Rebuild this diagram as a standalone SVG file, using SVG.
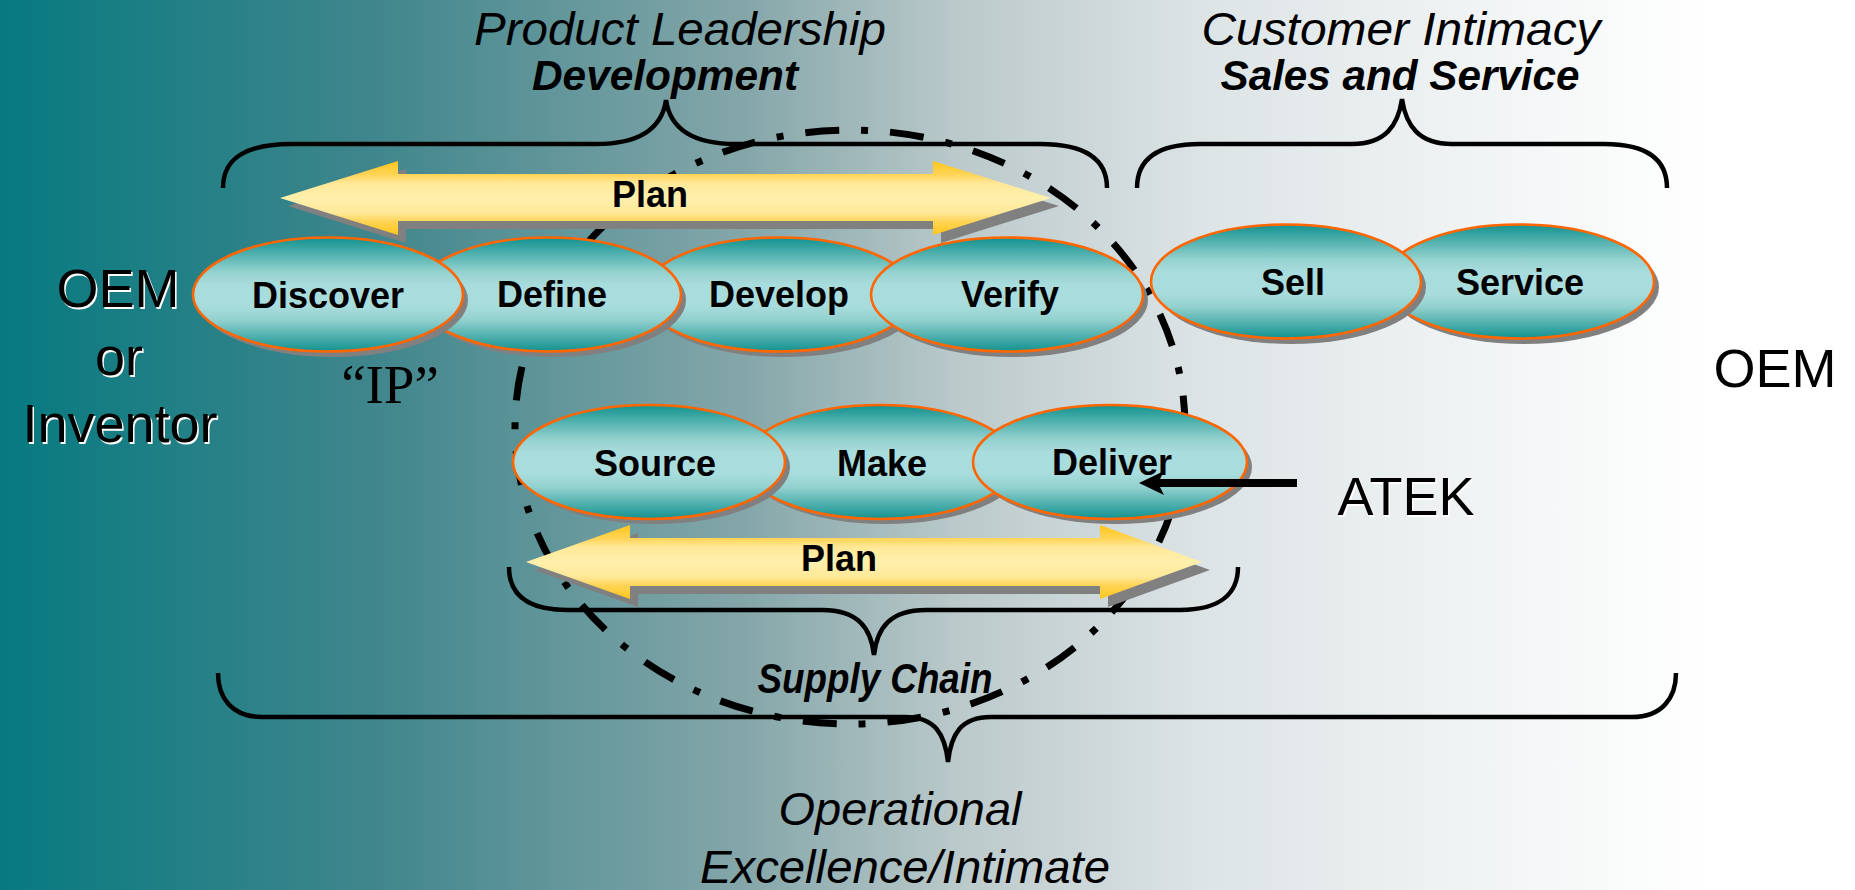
<svg xmlns="http://www.w3.org/2000/svg" width="1855" height="890" viewBox="0 0 1855 890">
<defs>
<linearGradient id="bg" x1="0" y1="0" x2="1855" y2="0" gradientUnits="userSpaceOnUse">
<stop offset="0" stop-color="#067a80"/>
<stop offset="0.2" stop-color="#3f868c"/>
<stop offset="0.4" stop-color="#84a6a9"/>
<stop offset="0.52" stop-color="#bccacb"/>
<stop offset="0.65" stop-color="#dde4e6"/>
<stop offset="0.8" stop-color="#f1f4f5"/>
<stop offset="0.92" stop-color="#ffffff"/>
<stop offset="1" stop-color="#ffffff"/>
</linearGradient>
<linearGradient id="ell" x1="0" y1="0" x2="0" y2="1">
<stop offset="0" stop-color="#12928f"/>
<stop offset="0.3" stop-color="#93d1cf"/>
<stop offset="0.42" stop-color="#a9dddd"/>
<stop offset="0.6" stop-color="#a9dddd"/>
<stop offset="0.72" stop-color="#93d1cf"/>
<stop offset="1" stop-color="#12928f"/>
</linearGradient>
<linearGradient id="arw" x1="0" y1="0" x2="0" y2="1">
<stop offset="0" stop-color="#ffc51a"/>
<stop offset="0.18" stop-color="#ffd455"/>
<stop offset="0.3" stop-color="#ffe898"/>
<stop offset="0.5" stop-color="#fff0ad"/>
<stop offset="0.7" stop-color="#ffe898"/>
<stop offset="0.82" stop-color="#ffd455"/>
<stop offset="1" stop-color="#ffc51a"/>
</linearGradient>
</defs>
<style>
.sh{fill:#808080}
.el{fill:url(#ell);stroke:#ff6600;stroke-width:2.6}
.lbl{font-family:"Liberation Sans",Arial,sans-serif;font-weight:bold;font-size:36px;text-anchor:middle;fill:#000}
.hdr{font-family:"Liberation Sans",Arial,sans-serif;font-style:italic;font-size:46px;text-anchor:middle;fill:#000}
.hdrb{font-family:"Liberation Sans",Arial,sans-serif;font-style:italic;font-weight:bold;font-size:42px;text-anchor:middle;fill:#000}
.big{font-family:"Liberation Sans",Arial,sans-serif;font-size:54px;text-anchor:middle;fill:#000}
.bigw{font-family:"Liberation Sans",Arial,sans-serif;font-size:54px;text-anchor:middle;fill:#fff}
.ip{font-family:"Liberation Serif","Times New Roman",serif;font-size:55px;text-anchor:middle;fill:#000}
.br{fill:none;stroke:#000;stroke-width:4.5;stroke-linecap:butt}
.circ{fill:none;stroke:#000;stroke-width:7;stroke-dasharray:34 22 7 22}
.arrow{fill:url(#arw)}
</style>
<rect x="0" y="0" width="1855" height="890" fill="url(#bg)"/>

<g id="connectors">
<path class="br" d="M223 188 C223 162 240 144 292 144 L596 144 C640 144 662 128 666 100 C670 128 692 144 736 144 L1040 144 C1090 144 1107 162 1107 188"/>
<path class="br" d="M1137 188 C1137 162 1154 144 1200 144 L1352 144 C1385 144 1398 126 1402 99 C1406 126 1419 144 1452 144 L1604 144 C1650 144 1667 162 1667 188"/>
<path class="br" d="M509 567 C509 592 524 610 568 610 L822 610 C858 610 871 628 874 655 C877 628 890 610 926 610 L1180 610 C1222 610 1238 592 1238 567"/>
<path class="br" d="M218 673 C218 698 232 717 262 717 L905 717 C935 717 945 734 948 762 C951 734 961 717 991 717 L1632 717 C1662 717 1676 698 1676 673"/>
<ellipse class="circ" cx="850" cy="427" rx="335" ry="297"/>
</g>

<g id="plan-top">
<polygon class="sh" points="288,206 406,169 406,182 941,182 941,169 1059,206 941,243 941,229 406,229 406,243"/>
<polygon class="arrow" points="280,198 398,161 398,174 933,174 933,161 1051,198 933,235 933,221 398,221 398,235"/>
<text class="lbl" x="650" y="207" font-size="35">Plan</text>
</g>

<g id="plan-bottom">
<polygon class="sh" points="534,570 638,533 638,546 1108,546 1108,533 1210,570 1108,607 1108,594 638,594 638,607"/>
<polygon class="arrow" points="526,562 630,525 630,538 1100,538 1100,525 1202,562 1100,599 1100,586 630,586 630,599"/>
<text class="lbl" x="839" y="571" font-size="35">Plan</text>
</g>

<g id="develop">
<ellipse class="sh" cx="784" cy="300" rx="136" ry="57"/>
<ellipse class="el" cx="779" cy="294.5" rx="136" ry="57"/>
<text class="lbl" x="779" y="307">Develop</text>
</g>
<g id="verify">
<ellipse class="sh" cx="1012" cy="300" rx="136" ry="57"/>
<ellipse class="el" cx="1007" cy="294.5" rx="136" ry="57"/>
<text class="lbl" x="1010" y="307">Verify</text>
</g>
<g id="define">
<ellipse class="sh" cx="553" cy="300" rx="133" ry="57"/>
<ellipse class="el" cx="548" cy="294.5" rx="133" ry="57"/>
<text class="lbl" x="552" y="307">Define</text>
</g>
<g id="discover">
<ellipse class="sh" cx="333" cy="300" rx="135" ry="57"/>
<ellipse class="el" cx="328" cy="294.5" rx="135" ry="57"/>
<text class="lbl" x="328" y="308">Discover</text>
</g>

<g id="service">
<ellipse class="sh" cx="1524" cy="287" rx="135" ry="57"/>
<ellipse class="el" cx="1519" cy="281.5" rx="135" ry="57"/>
<text class="lbl" x="1520" y="295">Service</text>
</g>
<g id="sell">
<ellipse class="sh" cx="1291" cy="287" rx="135" ry="57"/>
<ellipse class="el" cx="1286" cy="281.5" rx="135" ry="57"/>
<text class="lbl" x="1293" y="295">Sell</text>
</g>

<g id="make">
<ellipse class="sh" cx="885" cy="467" rx="136" ry="57"/>
<ellipse class="el" cx="880" cy="462" rx="136" ry="57"/>
<text class="lbl" x="882" y="476">Make</text>
</g>
<g id="source">
<ellipse class="sh" cx="654" cy="467" rx="136" ry="57"/>
<ellipse class="el" cx="649" cy="462" rx="136" ry="57"/>
<text class="lbl" x="655" y="476">Source</text>
</g>
<g id="deliver">
<ellipse class="sh" cx="1115" cy="467" rx="137" ry="57"/>
<ellipse class="el" cx="1110" cy="462" rx="137" ry="57"/>
<text class="lbl" x="1112" y="475">Deliver</text>
</g>

<g id="atek-arrow">
<rect x="1156" y="479" width="141" height="8" fill="#000"/>
<polygon points="1139,483 1164,471 1158,483 1164,495" fill="#000"/>
</g>

<g id="headers">
<text class="hdr" x="680" y="45" textLength="412" lengthAdjust="spacingAndGlyphs">Product Leadership</text>
<text class="hdrb" x="665" y="90" textLength="266" lengthAdjust="spacingAndGlyphs">Development</text>
<text class="hdr" x="1401" y="45" textLength="399" lengthAdjust="spacingAndGlyphs">Customer Intimacy</text>
<text class="hdrb" x="1400" y="90" textLength="359" lengthAdjust="spacingAndGlyphs">Sales and Service</text>
<text class="hdrb" x="875" y="693" font-size="36" textLength="235" lengthAdjust="spacingAndGlyphs">Supply Chain</text>
<text class="hdr" x="900" y="825" textLength="243" lengthAdjust="spacingAndGlyphs">Operational</text>
<text class="hdr" x="905" y="883" textLength="410" lengthAdjust="spacingAndGlyphs">Excellence/Intimate</text>
</g>

<g id="oem-inventor">
<text class="bigw" x="119.5" y="308.5">OEM</text>
<text class="bigw" x="120.5" y="376.5">or</text>
<text class="bigw" x="121.5" y="443.5">Inventor</text>
<text class="big" x="118" y="307">OEM</text>
<text class="big" x="119" y="375">or</text>
<text class="big" x="120" y="442">Inventor</text>
</g>
<g id="ip">
<text class="ip" x="390" y="403">“IP”</text>
</g>
<g id="oem-right">
<text class="big" x="1775" y="387">OEM</text>
</g>
<g id="atek">
<text class="bigw" x="1407.5" y="516.5">ATEK</text>
<text class="big" x="1406" y="515">ATEK</text>
</g>
</svg>
